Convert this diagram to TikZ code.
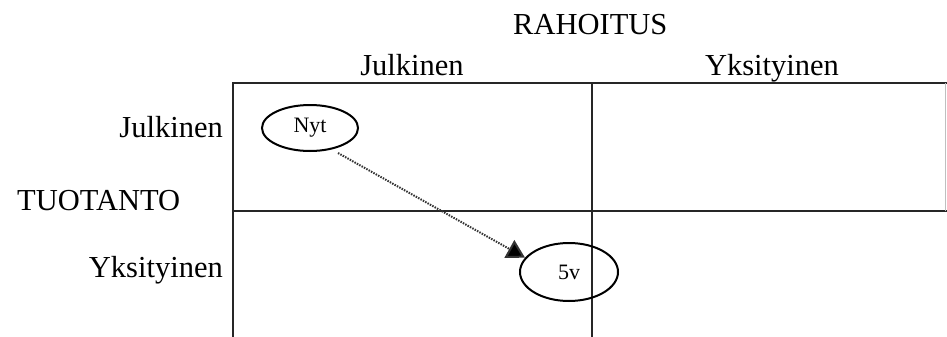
\documentclass[tikz,border=0pt]{standalone}
\usepackage{fontspec}
\setmainfont{Liberation Serif}
\usetikzlibrary{shapes.geometric,arrows.meta}
\begin{document}
\begin{tikzpicture}[x=1pt,y=-1pt,
  lbl/.style={font=\fontsize{30.5}{32}\selectfont, inner sep=0pt},
  oval/.style={draw, line width=2pt, ellipse, font=\fontsize{22}{24}\selectfont, inner sep=0pt},
  grid/.style={line width=1.4pt, draw=black!85},
  dotarrow/.style={dash pattern=on 1.5pt off 1.2pt, line width=2pt, draw=black!80, -{Triangle[length=18pt,width=20pt,fill=black]}}]
\useasboundingbox (0,0) rectangle (947,337);
% grid
\draw[grid] (233,338) -- (233,83) -- (947,83);
\draw[grid] (592,83) -- (592,338);
\draw[grid] (233,211) -- (947,211);
\draw[line width=0.8pt, draw=black!25] (945,83) -- (945,211);
% headers
\node[lbl, anchor=base west] (rah) at (513,35) {RAHOITUS};
\node[lbl, anchor=base] (hj) at (412,75) {Julkinen};
\node[lbl, anchor=base] (hy) at (772,75) {Yksityinen};
\node[lbl, anchor=base east] (vj) at (223,137) {Julkinen};
\node[lbl, anchor=base west] (tuo) at (17,210) {TUOTANTO};
\node[lbl, anchor=base east] (vy) at (223,277) {Yksityinen};
% ellipses
\node[oval, minimum width=96pt, minimum height=46pt] (nyt) at (310,128) {Nyt};
\node[oval, minimum width=98pt, minimum height=58pt] (v5) at (569,272) {5v};
\coordinate (s) at (338,153);
\draw[dotarrow] (s) -- (v5.162);
\end{tikzpicture}
\end{document}
